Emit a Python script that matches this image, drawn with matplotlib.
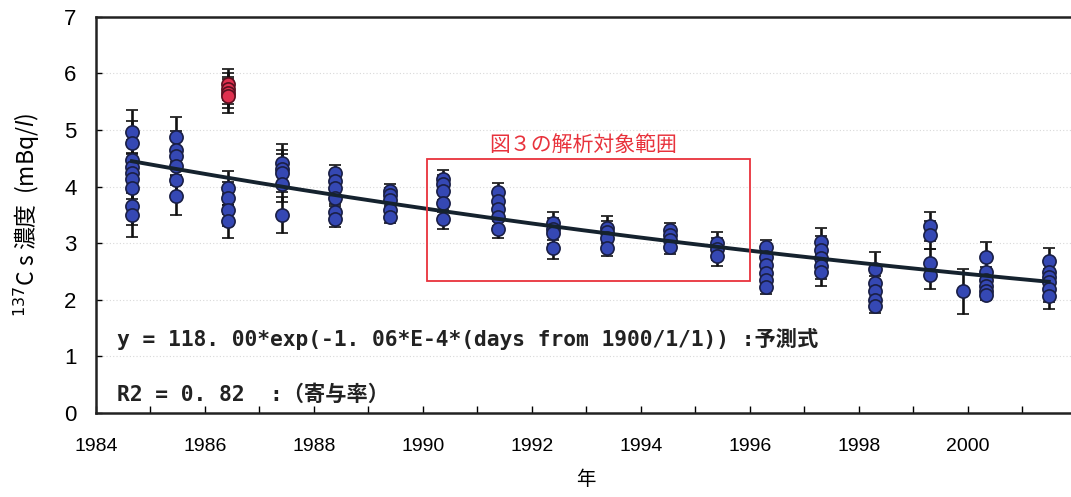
import numpy as np
import matplotlib
matplotlib.use("Agg")
import matplotlib.pyplot as plt
from matplotlib.patches import Rectangle

plt.rcParams['font.family'] = ['Liberation Sans', 'Noto Sans CJK JP', 'DejaVu Sans']

# sampling campaigns: decimal year, measured 137Cs (mBq/l), 1-sigma error
group_years = [1984.66, 1985.47, 1986.42, 1987.41, 1988.39, 1989.40, 1990.37,
               1991.38, 1992.39, 1993.38, 1994.54, 1995.40, 1996.30, 1997.31,
               1998.30, 1999.31, 1999.91, 2000.34, 2001.49]
group_values = [
    [4.96, 4.78, 4.47, 4.35, 4.25, 4.14, 3.98, 3.65, 3.50],
    [4.88, 4.65, 4.54, 4.36, 4.11, 3.84],
    [3.98, 3.80, 3.59, 3.39],
    [4.42, 4.32, 4.24, 4.05, 3.50],
    [4.25, 4.10, 3.98, 3.80, 3.56, 3.42],
    [3.92, 3.85, 3.77, 3.59, 3.47],
    [4.14, 4.05, 3.92, 3.72, 3.42],
    [3.91, 3.74, 3.60, 3.46, 3.25],
    [3.36, 3.25, 3.18, 2.92],
    [3.27, 3.20, 3.09, 2.92],
    [3.24, 3.15, 3.06, 2.93],
    [3.00, 2.90, 2.77],
    [2.94, 2.75, 2.62, 2.47, 2.35, 2.22],
    [3.03, 2.88, 2.74, 2.60, 2.50],
    [2.54, 2.30, 2.15, 2.00, 1.89],
    [3.30, 3.15, 2.65, 2.44],
    [2.15],
    [2.76, 2.50, 2.35, 2.25, 2.15, 2.08],
    [2.68, 2.50, 2.40, 2.32, 2.19, 2.06],
]
group_errors = [
    [0.39, 0.38, 0.36, 0.36, 0.35, 0.35, 0.34, 0.33, 0.39],
    [0.35, 0.34, 0.34, 0.33, 0.32, 0.34],
    [0.30, 0.29, 0.28, 0.29],
    [0.34, 0.33, 0.33, 0.32, 0.32],
    [0.14, 0.14, 0.14, 0.14, 0.14, 0.13],
    [0.12, 0.12, 0.12, 0.12, 0.12],
    [0.15, 0.16, 0.16, 0.16, 0.17],
    [0.15, 0.15, 0.15, 0.15, 0.15],
    [0.20, 0.20, 0.20, 0.20],
    [0.21, 0.20, 0.20, 0.15],
    [0.12, 0.12, 0.12, 0.12],
    [0.20, 0.19, 0.17],
    [0.12, 0.12, 0.12, 0.12, 0.12, 0.12],
    [0.24, 0.24, 0.24, 0.24, 0.26],
    [0.30, 0.13, 0.13, 0.13, 0.13],
    [0.26, 0.25, 0.25, 0.25],
    [0.40],
    [0.26, 0.08, 0.08, 0.07, 0.07, 0.08],
    [0.23, 0.23, 0.23, 0.23, 0.23, 0.23],
]

# Chernobyl fallout samples, shown separately
outlier_year = 1986.42
outlier_values = [5.81, 5.73, 5.66, 5.60]
outlier_errors = [0.27, 0.27, 0.27, 0.30]

# fitted decay: y = A*exp(-k*days since 1900/1/1)
fit_a = 118.00
fit_k = 1.06e-4

analysis_range = (1990.07, 1996.0)
analysis_ylim = (2.34, 4.48)

x_ticks = [1984, 1986, 1988, 1990, 1992, 1994, 1996, 1998, 2000]
y_ticks = [0, 1, 2, 3, 4, 5, 6, 7]

fig = plt.figure(figsize=(10.71, 4.97), dpi=100)
ax = fig.add_axes([0.0896, 0.169, 0.9156, 0.797])

for yv in y_ticks[1:-1]:
    ax.axhline(yv, color='#d8d8d8', lw=0.8, ls=(0, (1, 2)), zorder=0)

xs, ys, es = [], [], []
for yr, vals, errs in zip(group_years, group_values, group_errors):
    xs += [yr] * len(vals)
    ys += vals
    es += errs

bar_style = dict(fmt='o', ms=9.5, mew=1.2, ecolor='#111111', elinewidth=1.9,
                 capsize=4.5, capthick=1.9, zorder=3)
ax.errorbar(xs, ys, yerr=es, mfc='#3548b4', mec='#1a1f45', **bar_style)
ax.errorbar([outlier_year] * len(outlier_values), outlier_values,
            yerr=outlier_errors, mfc='#e0304f', mec='#5a1020', **bar_style)

t = np.linspace(group_years[0], group_years[-1], 200)
days = (t - 1900) * 365.25
ax.plot(t, fit_a * np.exp(-fit_k * days), color='#15222e', lw=2.8, zorder=4)

ax.add_patch(Rectangle((analysis_range[0], analysis_ylim[0]),
                       analysis_range[1] - analysis_range[0],
                       analysis_ylim[1] - analysis_ylim[0],
                       fill=False, ec='#e8323c', lw=1.3, zorder=5))
ax.text(sum(analysis_range) / 2 - 0.1, analysis_ylim[1] + 0.06, '図３の解析対象範囲',
        color='#e8323c', fontsize=15, ha='center', va='bottom',
        family=['Noto Sans CJK JP'])

mono = ['DejaVu Sans Mono', 'Noto Sans CJK JP']
ax.text(1984.38, 1.31, 'y = 118. 00*exp(-1. 06*E-4*(days from 1900/1/1)) :予測式',
        fontsize=15.3, fontweight='bold', va='center', family=mono, color='#222222')
ax.text(1984.38, 0.33, 'R2 = 0. 82  :（寄与率）',
        fontsize=15.3, fontweight='bold', va='center', family=mono, color='#222222')

ax.set_xlim(1984, 2002)
ax.set_ylim(0, 7)
ax.set_xticks(x_ticks)
ax.set_xticks(np.arange(1984, 2002), minor=True)
ax.set_yticks(y_ticks)
ax.tick_params(axis='x', which='both', direction='in', length=5, width=1,
               labelsize=14, pad=18)
ax.tick_params(axis='y', direction='in', length=4, width=1, labelsize=16, pad=14)
for side in ['left', 'bottom', 'top', 'right']:
    ax.spines[side].set_linewidth(1.8)
    ax.spines[side].set_color('#222222')

ax.set_xlabel('年', fontsize=14, labelpad=10, family=['Noto Sans CJK JP'])
ax.set_ylabel('$^{137}$C s 濃度  (mBq/$\\mathit{l}$)', fontsize=16.5, labelpad=16,
              family=['Noto Sans CJK JP', 'DejaVu Sans'])

fig.savefig('out.png', dpi=100)
